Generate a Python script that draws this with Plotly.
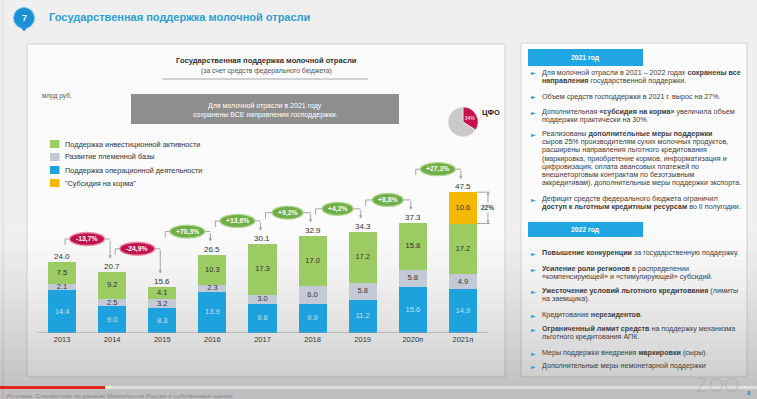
import plotly.graph_objects as go

# ---------------- data ----------------
years = ["2013", "2014", "2015", "2016", "2017", "2018", "2019", "2020п", "2021п"]
operational = [14.4, 9.0, 8.3, 13.9, 9.8, 9.9, 11.2, 15.6, 14.9]   # Поддержка операционной деятельности
breeding = [2.1, 2.5, 3.2, 2.3, 3.0, 6.0, 5.8, 5.8, 4.9]           # Развитие племенной базы
investment = [7.5, 9.2, 4.1, 10.3, 17.3, 17.0, 17.2, 15.8, 17.2]  # Поддержка инвестиционной активности
feed = [0, 0, 0, 0, 0, 0, 0, 0, 10.6]                              # "Субсидия на корма"
totals = [24.0, 20.7, 15.6, 26.5, 30.1, 32.9, 34.3, 37.3, 47.5]
growth = ["-13,7%", "-24,9%", "+70,3%", "+13,6%", "+9,2%", "+4,2%", "+8,8%", "+27,3%"]
cfo_share = [34, 66]
cfo_labels = ["ЦФО", "Прочие"]

series_names = ["Поддержка операционной деятельности", "Развитие племенной базы",
                "Поддержка инвестиционной активности", "\"Субсидия на корма\""]
series_values = [operational, breeding, investment, feed]
series_colors = ["#1ea2de", "#c4c9d6", "#9dcb63", "#f5b800"]
label_colors = ["rgba(255,255,255,0.72)", "#333333", "#2f2f2f", "#333333"]
legend_order = [2, 1, 0, 3]

W, H = 757, 399
FONT = "Liberation Sans, Arial, sans-serif"


def X(px):
    return px / W


def Y(py):
    return 1 - py / H


annotations = []
shapes = []


def note(xp, yp, text, size, color, xanchor="center", yanchor="middle", family=FONT, **kw):
    d = dict(xref="paper", yref="paper", x=X(xp), y=Y(yp), text=text, showarrow=False,
             xanchor=xanchor, yanchor=yanchor, font=dict(family=family, size=size, color=color))
    d.update(kw)
    annotations.append(d)


BASE_PX = 333
PPU = 71 / 24.0
YMAX = 60
fig = go.Figure()

# ---------------- bars ----------------
cum = [0.0] * len(years)
for name, vals, col, lcol in zip(series_names, series_values, series_colors, label_colors):
    fig.add_trace(go.Bar(x=years, y=vals, name=name, marker=dict(color=col, line=dict(width=0)),
                         width=0.56, showlegend=False, hoverinfo="skip"))
    mids, txt, xs = [], [], []
    for i, v in enumerate(vals):
        if v > 0:
            xs.append(years[i])
            mids.append(cum[i] + v / 2)
            txt.append(f"{v:.1f}")
        cum[i] += v
    fig.add_trace(go.Scatter(x=xs, y=mids, mode="text", text=txt, showlegend=False,
                             textfont=dict(family=FONT, size=7.5, color=lcol), hoverinfo="skip"))

# ---------------- background / panels ----------------
shapes.append(dict(type="rect", xref="paper", yref="paper", x0=X(27), x1=X(505), y0=Y(377), y1=Y(44),
                   fillcolor="#fbfbfb", line=dict(color="#d2d2d2", width=1), layer="below"))
shapes.append(dict(type="rect", xref="paper", yref="paper", x0=X(521), x1=X(747), y0=Y(377), y1=Y(43),
                   fillcolor="#fbfbfb", line=dict(color="#d2d2d2", width=1), layer="below"))
shapes.append(dict(type="line", xref="paper", yref="paper", x0=X(3), x1=X(3), y0=Y(399), y1=Y(0),
                   line=dict(color="#d8d8d8", width=1), layer="below"))
# darkening toward bottom (video overlay)
for k in range(17):
    y0 = 230 + k * 10
    y1 = min(399, y0 + 10)
    a = 0.21 * ((y0 + 5 - 230) / 169) ** 1.3
    shapes.append(dict(type="rect", xref="paper", yref="paper", x0=0, x1=1, y0=Y(y1), y1=Y(y0),
                       fillcolor=f"rgba(0,0,0,{a:.3f})", line=dict(width=0), layer="below"))

# slide title
shapes.append(dict(type="circle", xref="paper", yref="paper", x0=X(13.5), x1=X(34.5), y0=Y(28.5), y1=Y(7.5),
                   fillcolor="#1b90d6", line=dict(color="#7cc3ea", width=1)))
shapes.append(dict(type="path", xref="paper", yref="paper",
                   path=f"M {X(21)},{Y(27.5)} L {X(27)},{Y(27.5)} L {X(24)},{Y(31.5)} Z",
                   fillcolor="#1b90d6", line=dict(width=0)))
note(24, 18, "<b>7</b>", 9, "white")
note(47, 17, "<b>Государственная поддержка молочной отрасли</b>", 11, "#2c9fd4", xanchor="left")

# chart titles
note(266, 61, "<b>Государственная поддержка молочной отрасли</b>", 7.6, "#333")
note(266, 71, "(за счет средств федерального бюджета)", 6.8, "#555")
shapes.append(dict(type="line", xref="paper", yref="paper", x0=X(162), x1=X(368), y0=Y(79), y1=Y(79),
                   line=dict(color="#a8a8a8", width=1)))
note(40, 96, "млрд руб.", 6.5, "#555", xanchor="left")
shapes.append(dict(type="rect", xref="paper", yref="paper", x0=X(131), x1=X(399), y0=Y(124), y1=Y(94),
                   fillcolor="#8e8e8e", line=dict(width=0)))
note(265, 106, "Для молочной отрасли в 2021 году", 7, "white")
note(265, 115, "сохранены ВСЕ направления господдержки.", 7, "white")

# legend (manual)
leg_y = [144, 157, 170, 183]
for row, si in enumerate(legend_order):
    yc = leg_y[row]
    shapes.append(dict(type="rect", xref="paper", yref="paper", x0=X(50), x1=X(59.5), y0=Y(yc + 4), y1=Y(yc - 4),
                       fillcolor=series_colors[si], line=dict(width=0)))
    note(63, yc, series_names[si], 7.3, "#333", xanchor="left")

# pie
fig.add_trace(go.Pie(values=cfo_share, labels=cfo_labels, text=[f"{cfo_share[0]}%", ""], textinfo="text",
                     textposition="inside", insidetextfont=dict(family=FONT, size=5, color="white"),
                     marker=dict(colors=["#c4134c", "#c9c9c9"], line=dict(color="white", width=0.5)),
                     sort=False, direction="clockwise", rotation=0, showlegend=False, hoverinfo="skip",
                     domain=dict(x=[X(448), X(478)], y=[Y(137), Y(107)])))
note(480, 112, "<b>ЦФО</b>", 7.5, "#222", xanchor="left")

# baseline
shapes.append(dict(type="line", xref="x", yref="y", x0=-0.5, x1=8.5, y0=0, y1=0,
                   line=dict(color="#9a9a9a", width=1)))

# totals
for i, t in enumerate(totals):
    annotations.append(dict(xref="x", yref="y", x=i, y=cum[i], yanchor="bottom", xanchor="center",
                            showarrow=False, text=f"{t:.1f}", font=dict(family=FONT, size=8, color="#333"),
                            borderpad=0))

# growth pills + connectors
PILL_OFF = 23 / PPU
for i, g in enumerate(growth):
    py = max(cum[i], cum[i + 1]) + PILL_OFF
    xl = i + 0.06
    xr = i + 1 - 0.04
    shapes.append(dict(type="line", xref="x", yref="y", x0=xl, x1=xl, y0=py - 6 / PPU, y1=py,
                       line=dict(color="#a5a5a5", width=1)))
    shapes.append(dict(type="line", xref="x", yref="y", x0=xl, x1=xr, y0=py, y1=py,
                       line=dict(color="#a5a5a5", width=1)))
    annotations.append(dict(xref="x", yref="y", x=xr, y=cum[i + 1] + 13 / PPU, ax=xr, ay=py,
                            axref="x", ayref="y", text="", showarrow=True, arrowhead=2, arrowsize=0.7,
                            arrowwidth=1, arrowcolor="#a5a5a5"))
    neg = g.startswith("-")
    fill = "#c4134c" if neg else "#70ae46"
    edge = "#e98fab" if neg else "#b0d594"
    half = (4 * len(g) + 11) / 2
    shapes.append(dict(type="circle", xref="x", yref="y", xsizemode="pixel", ysizemode="pixel",
                       xanchor=i + 0.5, yanchor=py, x0=-half, x1=half, y0=-6.5, y1=6.5,
                       fillcolor=fill, line=dict(color=edge, width=1.3)))
    annotations.append(dict(xref="x", yref="y", x=i + 0.5, y=py, showarrow=False, text=f"<b>{g}</b>",
                            xanchor="center", yanchor="middle",
                            font=dict(family=FONT, size=6.8, color="white")))

# 22% bracket for feed subsidy
lo = cum[8] - feed[8]
hi = cum[8]
share = round(feed[8] / totals[8] * 100)
for yy in (lo, hi):
    shapes.append(dict(type="line", xref="x", yref="y", x0=8.28, x1=8.54, y0=yy, y1=yy,
                       line=dict(color="#a5a5a5", width=1)))
mid = (lo + hi) / 2
for end in (hi, lo):
    annotations.append(dict(xref="x", yref="y", x=8.5, y=end, ax=8.5, ay=mid, axref="x", ayref="y", text="",
                            showarrow=True, arrowhead=2, arrowsize=0.6, arrowwidth=1, arrowcolor="#a5a5a5"))
annotations.append(dict(xref="x", yref="y", x=8.5, y=mid, showarrow=False, text=f"<b>{share}%</b>",
                        xanchor="center", yanchor="middle",
                        bgcolor="#f8f8f8", borderpad=1, font=dict(family=FONT, size=6.5, color="#444")))

# ---------------- right panel text ----------------
for (ytop, ybot, label) in [(49, 66, "2021 год"), (222, 237, "2022 год")]:
    shapes.append(dict(type="rect", xref="paper", yref="paper", x0=X(528), x1=X(643), y0=Y(ybot), y1=Y(ytop),
                       fillcolor="#1fa6e3", line=dict(width=0)))
    note(585.5, (ytop + ybot) / 2, f"<b>{label}</b>", 6.8, "white")

paras = [
    (73, ["Для молочной отрасли в 2021 – 2022 годах <b>сохранены все</b>",
          "<b>направления</b> государственной поддержки."]),
    (97, ["Объем средств господдержки в 2021 г. вырос на 27%."]),
    (112, ["Дополнительная <b>«субсидия на корма»</b> увеличила объем",
           "поддержки практически на 30%."]),
    (134, ["Реализованы <b>дополнительные меры поддержки</b>",
           "сыров 25% производителям сухих молочных продуктов,",
           "расширены направления льготного кредитования",
           "(маркировка, приобретение кормов, информатизация и",
           "цифровизация, оплата авансовых платежей по",
           "внешнеторговым контрактам по безотзывным",
           "аккредитивам), дополнительные меры поддержки экспорта."]),
    (199, ["Дефицит средств федерального бюджета ограничил",
           "<b>доступ к льготным кредитным ресурсам</b> во II полугодии."]),
    (253, ["<b>Повышение конкуренции</b> за государственную поддержку."]),
    (269, ["<b>Усиление роли регионов</b> в распределении",
           "«компенсирующей» и «стимулирующей» субсидий."]),
    (291, ["<b>Ужесточение условий льготного кредитования</b> (лимиты",
           "на заемщика)."]),
    (315, ["Кредитование <b>нерезидентов</b>."]),
    (329, ["<b>Ограниченный лимит средств</b> на поддержку механизма",
           "льготного кредитования АПК."]),
    (353, ["Меры поддержки внедрения <b>маркировки</b> (сыры)."]),
    (366, ["Дополнительные меры немонетарной поддержки"]),
]
FS = 7.15
LS = 8.2
for yc, lines in paras:
    note(529, yc, "►", 6, "#2a9fd6", xanchor="left", family="DejaVu Sans")
    for k, ln in enumerate(lines):
        note(541, yc + k * LS, ln, FS, "#3d3d3d", xanchor="left", borderpad=0)

# ---------------- video overlay bits ----------------
note(740, 385, "ZOO", 20, "rgba(150,150,150,0.28)", xanchor="right", borderpad=0)
note(749, 393, "<b>8</b>", 6, "#2a7fc0", borderpad=0)
shapes.append(dict(type="rect", xref="paper", yref="paper", x0=0, x1=1, y0=Y(389), y1=Y(386),
                   fillcolor="rgba(235,235,235,0.7)", line=dict(width=0)))
shapes.append(dict(type="rect", xref="paper", yref="paper", x0=0, x1=X(105), y0=Y(389), y1=Y(386),
                   fillcolor="#e3241d", line=dict(width=0)))
shapes.append(dict(type="rect", xref="paper", yref="paper", x0=X(105), x1=X(111), y0=Y(389), y1=Y(386),
                   fillcolor="#f3f0d8", line=dict(width=0)))
note(5, 395, "Источник: Союзмолоко по данным Минсельхоза России и собственные оценки", 6.2, "#8a8a8a",
     xanchor="left", borderpad=0)

fig.update_layout(
    width=W, height=H, margin=dict(l=0, r=0, t=0, b=0),
    paper_bgcolor="#efefef", plot_bgcolor="rgba(0,0,0,0)",
    barmode="stack", showlegend=False,
    xaxis=dict(domain=[X(37), X(513)], range=[-0.5, 9.0], type="category", showgrid=False, showline=False,
               zeroline=False, ticks="", tickfont=dict(family=FONT, size=7.5, color="#333")),
    yaxis=dict(domain=[Y(BASE_PX), Y(BASE_PX - YMAX * PPU)], range=[0, YMAX], visible=False),
    shapes=shapes, annotations=annotations,
    font=dict(family=FONT),
)

fig.write_html("out.html", config={"displayModeBar": False},
               post_script="document.body.style.margin='0';document.body.style.overflow='hidden';")
